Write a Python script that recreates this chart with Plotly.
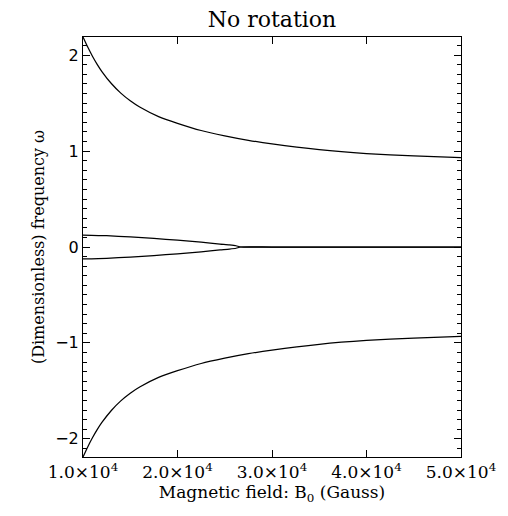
import plotly.graph_objects as go

# Magnetic field B0 (units of 1e4 Gauss) and readings of the outer branches
b_outer = [1.00, 1.05, 1.10, 1.15, 1.20, 1.30, 1.40, 1.50, 1.60, 1.80, 2.00,
           2.25, 2.50, 2.75, 3.00, 3.50, 4.00, 4.50, 5.00]
w_upper = [2.19, 2.085, 1.99, 1.905, 1.83, 1.705, 1.605, 1.525, 1.46, 1.36, 1.29,
           1.215, 1.16, 1.113, 1.075, 1.015, 0.975, 0.950, 0.932]
w_lower = [-2.19, -2.085, -1.99, -1.905, -1.83, -1.705, -1.605, -1.525, -1.46, -1.36, -1.29,
           -1.215, -1.16, -1.113, -1.075, -1.015, -0.975, -0.950, -0.932]

# Inner branches (merge at zero near 2.67e4 G, then stay at zero)
b_inner = [1.00, 1.25, 1.50, 1.75, 2.00, 2.25, 2.45, 2.55, 2.62, 2.67, 3.00, 4.00, 5.00]
w_inner_up = [0.125, 0.118, 0.105, 0.090, 0.071, 0.050, 0.031, 0.022, 0.013, 0.0, 0.0, 0.0, 0.0]
w_inner_dn = [-0.125, -0.118, -0.105, -0.090, -0.071, -0.050, -0.031, -0.022, -0.013, 0.0, 0.0, 0.0, 0.0]

x_tickvals = [1e4, 2e4, 3e4, 4e4, 5e4]
x_ticktext = ["1.0×10<sup>4</sup>", "2.0×10<sup>4</sup>", "3.0×10<sup>4</sup>",
              "4.0×10<sup>4</sup>", "5.0×10<sup>4</sup>"]

SERIF = "DejaVu Serif"
line = dict(color="black", width=1.25, shape="spline", smoothing=0.6)

fig = go.Figure()
for bx, wy in [(b_outer, w_upper), (b_outer, w_lower),
               (b_inner, w_inner_up), (b_inner, w_inner_dn)]:
    fig.add_trace(go.Scatter(x=[b * 1e4 for b in bx], y=wy, mode="lines",
                             line=line, showlegend=False, hoverinfo="skip"))

fig.update_layout(
    width=508, height=516,
    margin=dict(l=83, r=41, t=37, b=59),
    paper_bgcolor="white", plot_bgcolor="white",
    title=dict(text="No rotation", x=0.5, xanchor="center", xref="paper",
               y=0.962, yref="container", yanchor="middle",
               font=dict(family=SERIF, size=22, color="black")),
    xaxis=dict(range=[1e4, 5e4], tickvals=x_tickvals, ticktext=x_ticktext,
               ticks="inside", ticklen=7, tickcolor="black", tickwidth=1,
               showline=True, linecolor="black", linewidth=1, mirror="ticks",
               showgrid=False, zeroline=False,
               tickfont=dict(family=SERIF, size=17, color="black"),
               title=dict(text="Magnetic field: B<sub>0</sub> (Gauss)", standoff=3,
                          font=dict(family=SERIF, size=17, color="black"))),
    yaxis=dict(range=[-2.19, 2.19], tickmode="linear", tick0=0, dtick=1,
               ticks="inside", ticklen=7, tickcolor="black", tickwidth=1,
               minor=dict(dtick=0.1, tick0=0, ticks="inside", ticklen=4,
                          tickcolor="black", tickwidth=1, showgrid=False),
               showline=True, linecolor="black", linewidth=1, mirror="ticks",
               showgrid=False, zeroline=False,
               tickfont=dict(family="DejaVu Sans", size=16, color="black"),
               title=dict(text="(Dimensionless) frequency ω", standoff=6,
                          font=dict(family=SERIF, size=16, color="black"))),
)

fig.write_html("out.html",
               config={"displayModeBar": False, "staticPlot": True},
               post_script="document.body.style.margin='0';"
                           "document.body.style.overflow='hidden';")
